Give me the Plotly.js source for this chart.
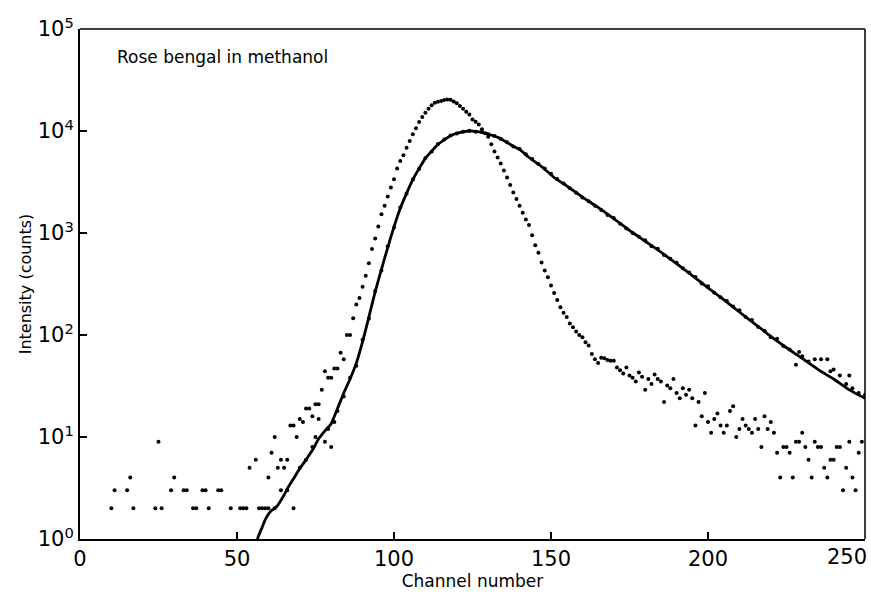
<!DOCTYPE html>
<html>
<head>
<meta charset="utf-8">
<script src="https://cdn.plot.ly/plotly-3.0.1.min.js"></script>
<style>html,body{margin:0;padding:0;background:#fff;}#chart{width:871px;height:592px;}</style>
</head>
<body>
<div id="chart"></div>
<script>
// Lamp (excitation) profile: channel, counts
var lampCh = [10,11,15,16,17,24,25,26,29,30,33,34,36,37,39,40,41,44,45,48,51,52,53,54,56,
  60,61,62,63,64,65,66,67,68,69,70,71,72,73,74,75,76,77,78,79,80,81,82,83,84,85,86,87,88,89,
  90,91,92,93,94,95,96,97,98,99,100,101,102,103,104,105,106,107,108,109,110,111,112,113,114,
  115,116,117,118,119,120,121,122,123,124,125,126,127,128,129,130,131,132,133,134,135,136,137,
  138,139,140,141,142,143,144,145,146,147,148,149,150,151,152,153,154,155,156,157,158,159,160,
  161,162,163,164,165,166,167,168,169,170,171,172,173,174,175,176,177,178,179,180,181,182,183,
  184,185,186,187,188,189,190,191,192,193,194,195,196,197,198,199,200,201,202,203,204,205,206,
  207,208,209,210,211,212,213,214,215,216,217,218,219,220,221,222,223,224,225,226,227,228,229,
  230,231,232,233,234,235,236,237,238,239,240,241,242,243,244,245,246,247,248,249];
var lampCnt = [2,3,3,4,2,2,9,2,3,4,3,3,2,2,3,3,2,3,3,2,2,2,2,5,6,
  4,7,10,5,6,5,6,13,13,10,15,14,19,19,16,21,21,29,44,38,38,47,47,67,58,100,100,146,199,230,
  298,381,505,696,885,1160,1530,1845,2280,2790,3370,4280,5090,5790,6870,7980,9280,10630,12240,13700,15100,16560,17840,18960,19400,
  19700,20100,20400,20200,19500,18660,17600,16560,15400,14500,13000,12300,11600,10400,9500,8800,7400,6300,5500,4800,4100,3500,2950,
  2500,2150,1850,1580,1360,1200,950,760,640,515,430,368,305,258,220,187,165,150,130,119,108,100,95,
  85,79,65,58,53,60,59,57,56,56,48,45,42,48,40,38,35,43,39,29,37,33,41,
  37,35,22,32,30,37,27,24,30,26,29,24,13,22,16,27,14,11,15,17,13,11,13,
  18,20,10,12,15,13,12,11,15,12,8,16,12,14,11,7,4,8,8,7,4,9,9,
  11,8,6,4,9,8,8,5,4,6,6,8,8,3,5,9,4,3,7,9];

// Fluorescence decay data: channel, counts
var decayCh = [57,58,59,60,62,64,66,68,70,72,74,75,76,78,79,80,81,82,84,86,88,90,92,94,96,98,100,102,104,106,108,110,
  112,114,116,118,120,122,124,126,128,130,132,134,136,138,140,142,144,146,148,150,152,154,156,158,160,162,
  164,166,168,170,172,174,176,178,180,182,184,186,188,190,192,194,196,198,200,202,204,206,208,210,212,214,
  216,218,220,222,224,226,228,229,230,232,234,236,238,239,240,242,244,245,246,248,250];
var decayCnt = [2,2,2,2,2,3,3,2,5,6,8,10,15,9,12,8,14,18,25,38,50,90,145,270,430,740,1130,1780,2420,3350,4250,5450,
  6300,7450,8250,9050,9450,9850,10050,9850,9750,9300,8950,8350,7750,7050,6650,5900,5300,4750,4300,3800,3380,3050,2750,2480,2230,2050,
  1850,1680,1500,1400,1230,1110,1000,920,850,740,700,610,560,510,450,410,370,320,300,260,235,215,190,175,150,140,
  120,110,95,92,78,72,51,68,62,55,58,58,58,44,46,40,33,40,30,27,26];

// Fitted decay curve: channel, counts
var fitCh = [56.5,57,58,59,60,61,62,63,64,65,66,68,70,72,74,76,78,80,82,84,86,88,90,92,94,96,98,100,102,104,106,108,110,
  112,114,116,118,120,122,124,126,128,130,132,134,136,138,140,143,147,151,155,160,165,170,175,180,185,190,195,200,
  205,210,215,220,225,230,235,240,245,250];
var fitCnt = [1,1.1,1.3,1.55,1.75,1.9,2.0,2.15,2.4,2.7,3.1,3.9,4.9,6.0,7.4,9.6,11.5,13.5,19,27,37,53,86,150,265,440,720,1150,1750,2450,3330,4300,5400,
  6350,7400,8200,9000,9500,9800,10000,9900,9700,9350,8900,8400,7700,7100,6600,5500,4480,3500,2900,2250,1780,1380,1060,830,650,500,383,290,
  222,168,128,97,75,59,46,37,29,24];

var xTicks = [0,50,100,150,200,250];
var xTickText = ['0','50','100','150','200',''];
var lastXLabel = '250';
var yTicks = [1,10,100,1000,10000,100000];
var yTickText = ['10<sup>0</sup>','10<sup>1</sup>','10<sup>2</sup>','10<sup>3</sup>','10<sup>4</sup>','10<sup>5</sup>'];

var FONT = 'DejaVu Sans, sans-serif';

var traces = [
  {x: lampCh, y: lampCnt, type: 'scatter', mode: 'markers',
   marker: {color: '#000', size: 4}, hoverinfo: 'skip', cliponaxis: true},
  {x: decayCh, y: decayCnt, type: 'scatter', mode: 'markers',
   marker: {color: '#000', size: 4}, hoverinfo: 'skip', cliponaxis: true},
  {x: fitCh, y: fitCnt, type: 'scatter', mode: 'lines',
   line: {color: '#000', width: 2.8, shape: 'spline', smoothing: 0.5}, hoverinfo: 'skip'}
];

var layout = {
  width: 871, height: 592,
  margin: {l: 80, r: 6, t: 29, b: 53},
  paper_bgcolor: '#fff', plot_bgcolor: '#fff',
  showlegend: false,
  font: {family: FONT, color: '#000', size: 18},
  xaxis: {
    range: [0, 250], tickvals: xTicks, ticktext: xTickText,
    ticks: 'inside', ticklen: 7, tickwidth: 2, tickcolor: '#000',
    showline: true, linewidth: 2, linecolor: '#000', mirror: false,
    showgrid: false, zeroline: false, ticklabeloverflow: 'allow',
    tickfont: {family: FONT, size: 21, color: '#000'},
    title: {text: 'Channel number', font: {family: FONT, size: 17, color: '#000'}, standoff: 4}
  },
  yaxis: {
    type: 'log', range: [0, 5], tickvals: yTicks, ticktext: yTickText,
    ticks: 'inside', ticklen: 7, tickwidth: 2, tickcolor: '#000',
    showline: true, linewidth: 2, linecolor: '#000', mirror: false,
    showgrid: false, zeroline: false, ticklabeloverflow: 'allow',
    tickfont: {family: FONT, size: 21, color: '#000'},
    title: {text: 'Intensity (counts)', font: {family: FONT, size: 16, color: '#000'}, standoff: 2}
  },
  shapes: [
    {type: 'line', xref: 'paper', yref: 'paper', x0: 0, x1: 1, y0: 1, y1: 1, line: {color: '#000', width: 1.5}},
    {type: 'line', xref: 'paper', yref: 'paper', x0: 1, x1: 1, y0: 0, y1: 1, line: {color: '#000', width: 1.5}}
  ],
  annotations: [
    {text: 'Rose bengal in methanol', xref: 'paper', yref: 'paper', x: 0.044, y: 0.945,
     xanchor: 'left', yanchor: 'middle', showarrow: false,
     font: {family: FONT, size: 17, color: '#000'}},
    {text: lastXLabel, xref: 'x', yref: 'paper', x: 250, y: 0,
     xanchor: 'right', yanchor: 'top', xshift: 4, yshift: -4, showarrow: false,
     font: {family: FONT, size: 21, color: '#000'}}
  ]
};

Plotly.newPlot('chart', traces, layout, {displayModeBar: false, staticPlot: true});
</script>
</body>
</html>
